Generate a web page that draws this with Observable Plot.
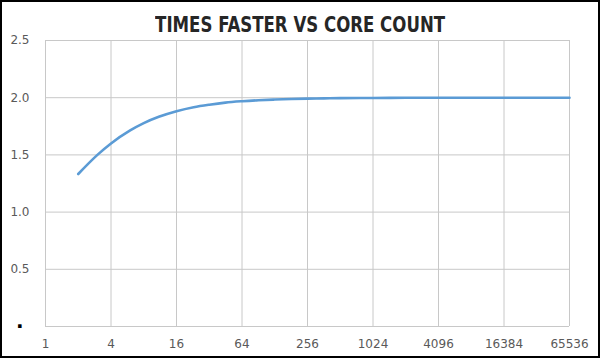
<!DOCTYPE html>
<html><head><meta charset="utf-8">
<script src="https://cdn.jsdelivr.net/npm/d3@7"></script>
<script src="https://cdn.jsdelivr.net/npm/@observablehq/plot@0.6"></script>
<style>
html,body{margin:0;padding:0;background:#fff;}
#wrap{position:relative;width:600px;height:358px;overflow:hidden;}
#frame{position:absolute;left:0;top:0;width:600px;height:358px;box-sizing:border-box;border:2px solid #000;pointer-events:none;}
#title{position:absolute;left:0;top:10px;width:600px;text-align:center;white-space:nowrap;font-family:"DejaVu Sans Condensed","DejaVu Sans",sans-serif;font-weight:bold;font-size:21px;line-height:30px;color:#262626;}
#title span{display:inline-block;transform-origin:50% 50%;}
#chart{position:absolute;left:0;top:0;}
</style></head>
<body><div id="wrap"><div id="chart"></div><div id="title"><span id="tt"></span></div><div id="frame"></div></div>
<script>
const titleText = "TIMES FASTER VS CORE COUNT";
const cores = [2,3,4,6,8,11,16,23,32,45,64,91,128,181,256,362,512,1024,2048,4096,8192,16384,32768,65536];
const speedup = [1.333,1.5,1.6,1.714,1.778,1.833,1.882,1.917,1.939,1.957,1.969,1.978,1.984,1.989,1.992,1.994,1.996,1.998,1.999,2.0,2.0,2.0,2.0,2.0];
const xTicks = [1,4,16,64,256,1024,4096,16384,65536];
const yTicks = [0,0.5,1.0,1.5,2.0,2.5];
const data = cores.map((c,i)=>({cores:c, speedup:speedup[i]}));

const tt = document.getElementById("tt");
tt.textContent = titleText;
const plot = Plot.plot({
  width:600, height:358,
  marginTop:40, marginBottom:32, marginLeft:45, marginRight:31,
  style:{fontFamily:"'DejaVu Sans', sans-serif", fontSize:"12px", color:"#595959", background:"transparent"},
  x:{type:"log", base:2, domain:[1,65536], ticks:xTicks, tickFormat:d=>String(d), tickSize:0, tickPadding:13, label:null},
  y:{domain:[0,2.5], ticks:yTicks, tickFormat:d=> d===0 ? "\u00b7" : d.toFixed(1), tickSize:0, tickPadding:16, label:null},
  marks:[
    Plot.ruleY(yTicks,{stroke:"#c8c8c8", strokeWidth:1}),
    Plot.ruleX(xTicks,{stroke:"#c8c8c8", strokeWidth:1}),
    Plot.line(data,{x:"cores", y:"speedup", stroke:"#5b9bd5", strokeWidth:2.6, curve:"monotone-x"})
  ]
});
document.getElementById("chart").appendChild(plot);
d3.select(plot).selectAll("text").filter(function(){return this.textContent === "\u00b7";})
  .style("font-weight","bold").style("font-size","20px").attr("fill","#000").attr("dx","-6");
const w = tt.getBoundingClientRect().width;
tt.style.transform = `scaleX(${290/w})`;
</script></body></html>
